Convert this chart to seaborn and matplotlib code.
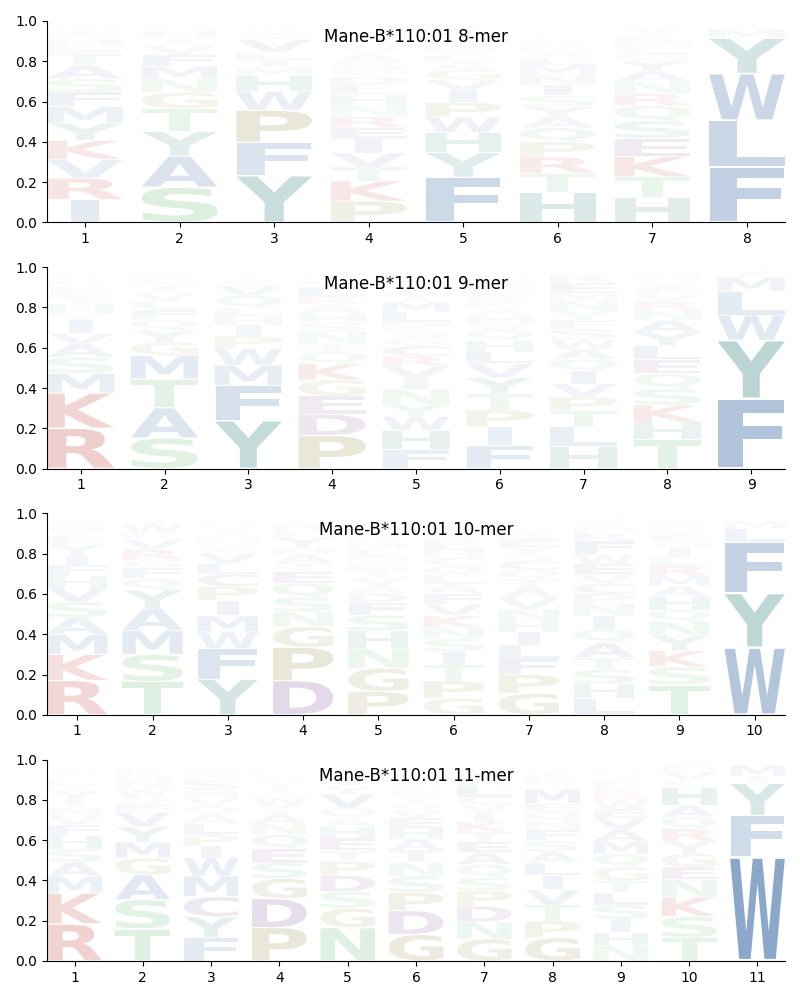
import matplotlib
matplotlib.use("Agg")
import matplotlib.pyplot as plt
import seaborn as sns
from matplotlib.font_manager import FontProperties
from matplotlib.patches import PathPatch
from matplotlib.textpath import TextPath
from matplotlib.transforms import Affine2D

ALLELE = "Mane-B*110:01"

# letters are listed from the bottom of each stack to the top
LETTERS_8 = ["IRVKYMFSATLHQEGNWPDC", "SAYTGNMFVIHQELKRWPDC", "YFPWHMILVQGSATNERKDC",
             "PKTVIERNHLDQSAYMFGWC", "FYHWPIVGALTMSQNRKEDC", "HTRPQAYSINMLVKFEGWDC",
             "HTKESQRNAYGLMFIVPWDC", "FLWYMIVHCT"]
HEIGHTS_8 = [[.113, .106, .094, .094, .086, .081, .073, .066, .065, .06, .036, .034, .02, .018, .015, .012, .01, .008, .005, .004],
             [.174, .155, .122, .115, .08, .066, .061, .061, .046, .033, .036, .018, .012, .008, .005, .004, .002, .001, .001, .0],
             [.232, .165, .16, .093, .078, .041, .038, .04, .06, .03, .02, .015, .01, .008, .004, .002, .002, .001, .001, .0],
             [.105, .10, .07, .07, .07, .055, .055, .057, .052, .05, .04, .033, .04, .04, .03, .025, .02, .015, .015, .008],
             [.223, .124, .10, .075, .073, .063, .05, .05, .036, .035, .03, .03, .025, .02, .02, .015, .012, .008, .006, .005],
             [.149, .095, .08, .075, .07, .055, .05, .055, .053, .05, .05, .041, .03, .025, .02, .015, .012, .008, .005, .004],
             [.121, .105, .10, .09, .088, .075, .06, .06, .053, .05, .04, .03, .03, .025, .025, .02, .012, .008, .005, .003],
             [.275, .232, .232, .175, .046, .018, .01, .006, .004, .002]]

LETTERS_9 = ["RKMSAVIYHTFLEQNGWPDC", "SATMGYQFLVINHEPRKWDC", "YFMWPIHLQVSATNGERKDC",
             "PDEGKQTNSHARLVIMYFWC", "FHWYNIVRCGSPLMTAQEDK", "FIPTYVLHQSMAKREGDWNC",
             "HLTPVIQAWSFYNMERGKDC", "THKSQELYANRVFIMGWPDC", "FYWLMIVC"]
HEIGHTS_9 = [[.2, .175, .098, .08, .066, .053, .068, .032, .045, .035, .03, .027, .022, .018, .012, .01, .009, .008, .006, .006],
             [.152, .15, .143, .117, .065, .06, .053, .05, .04, .045, .03, .03, .02, .015, .012, .008, .005, .003, .001, .001],
             [.238, .175, .10, .083, .063, .053, .046, .04, .06, .05, .025, .02, .012, .01, .008, .006, .004, .003, .002, .002],
             [.164, .106, .09, .08, .08, .06, .043, .056, .046, .046, .045, .036, .05, .03, .02, .015, .012, .006, .004, .001],
             [.094, .095, .07, .058, .075, .058, .058, .05, .05, .04, .04, .04, .05, .05, .035, .03, .025, .02, .012, .01],
             [.113, .095, .083, .08, .08, .07, .058, .058, .05, .036, .038, .035, .03, .03, .03, .03, .025, .02, .015, .004],
             [.11, .096, .08, .07, .065, .063, .058, .05, .05, .05, .046, .045, .05, .04, .05, .04, .015, .01, .006, .002],
             [.143, .088, .085, .08, .075, .07, .07, .065, .06, .05, .045, .035, .035, .025, .025, .02, .012, .008, .005, .004],
             [.347, .29, .125, .118, .07, .028, .015, .003]]

LETTERS_10 = ["RKMASVHFIYLTNGQEPWDC", "TSMAYQFGRVLWINHEPKDC", "YFWMIPCLVANHQTSGERKD",
              "DPGNSQETAHYLRMFIVKWC", "PGNHSFDAVTEQLMRKWICY", "GPTISNKVFALQCHERYMWD",
              "GPFLIHNVATQCSYERMDKW", "LHSTAQINPCVEWFRMYKGD", "TSKYNQHAMRLIGEVFPWDC", "WYFLMIVC"]
HEIGHTS_10 = [[.17, .13, .10, .083, .078, .07, .058, .055, .05, .053, .04, .03, .025, .02, .015, .008, .005, .004, .003, .003],
              [.165, .135, .12, .11, .09, .056, .055, .04, .05, .05, .033, .045, .025, .008, .005, .004, .002, .002, .001, .001],
              [.177, .152, .083, .08, .076, .07, .06, .053, .05, .03, .03, .025, .02, .02, .015, .015, .015, .012, .008, .004],
              [.17, .165, .103, .075, .07, .07, .06, .04, .045, .033, .05, .035, .03, .02, .012, .008, .006, .004, .002, .002],
              [.116, .115, .10, .086, .078, .063, .045, .04, .04, .04, .03, .035, .035, .03, .025, .02, .015, .008, .005, .004],
              [.083, .085, .08, .066, .063, .058, .058, .055, .055, .046, .045, .046, .04, .04, .04, .03, .025, .02, .015, .01],
              [.107, .093, .078, .068, .065, .055, .058, .055, .05, .046, .046, .045, .028, .04, .04, .03, .02, .015, .008, .003],
              [.08, .074, .07, .06, .075, .066, .066, .058, .053, .05, .046, .05, .05, .066, .038, .03, .025, .02, .012, .007],
              [.148, .09, .08, .075, .07, .058, .066, .053, .05, .05, .043, .045, .033, .033, .033, .025, .015, .008, .003, .002],
              [.334, .27, .255, .065, .04, .008, .003, .001]]

LETTERS_11 = ["RKMASHFVNIYTLQGEPWDC", "TSAGMYVFQWNHRLIEKPDC", "FYCMWIPLAQVHSREGNKTD",
              "PDGSEQNATWVIYLFMKRHC", "NGSDPTEHAQVYILMFKRWC", "GDPSNTAHEVQYLMIKRFWC",
              "GNDPSQAETKIVCLRYFHMW", "GPTVILASFNQEMHRKYDWC", "NHISLTGQMAVEWRKFYPDC",
              "TSKNEGYRQAHLVFMIPWDC", "WFYIMRLV"]
HEIGHTS_11 = [[.184, .153, .083, .071, .066, .063, .056, .046, .041, .041, .041, .028, .025, .02, .018, .015, .012, .01, .008, .004],
              [.159, .146, .124, .083, .08, .075, .071, .041, .036, .041, .041, .025, .03, .015, .012, .008, .006, .004, .002, .001],
              [.116, .104, .10, .103, .09, .058, .058, .055, .046, .04, .038, .04, .05, .025, .02, .015, .012, .008, .006, .004],
              [.166, .144, .10, .078, .07, .07, .055, .048, .041, .043, .02, .03, .025, .02, .015, .012, .015, .015, .01, .004],
              [.166, .096, .083, .08, .07, .053, .063, .058, .041, .05, .07, .038, .03, .02, .015, .012, .01, .008, .004, .003],
              [.132, .118, .09, .083, .066, .063, .055, .053, .05, .041, .036, .03, .03, .025, .02, .015, .012, .008, .005, .003],
              [.109, .086, .078, .076, .066, .066, .058, .053, .05, .05, .045, .041, .038, .058, .033, .025, .015, .008, .003, .002],
              [.116, .083, .08, .075, .07, .066, .053, .055, .053, .046, .046, .04, .07, .025, .03, .025, .015, .006, .004, .002],
              [.076, .066, .066, .07, .063, .058, .068, .065, .063, .058, .058, .046, .045, .036, .033, .03, .025, .018, .01, .006],
              [.116, .106, .096, .086, .063, .066, .063, .061, .058, .058, .09, .033, .045, .03, .015, .008, .004, .002, .001, .001],
              [.518, .205, .16, .035, .055, .012, .008, .004]]

PANELS = [("8-mer", LETTERS_8, HEIGHTS_8), ("9-mer", LETTERS_9, HEIGHTS_9),
          ("10-mer", LETTERS_10, HEIGHTS_10), ("11-mer", LETTERS_11, HEIGHTS_11)]

BLUE, RED, TEAL = "#1f5598", "#b01208", "#127069"
GREEN, OLIVE, PURPLE = "#3ca94b", "#786e14", "#601e78"
COLORS = {"A": BLUE, "F": BLUE, "I": BLUE, "L": BLUE, "M": BLUE, "V": BLUE, "W": BLUE,
          "H": TEAL, "Y": TEAL, "K": RED, "R": RED,
          "N": GREEN, "Q": GREEN, "S": GREEN, "T": GREEN,
          "G": OLIVE, "P": OLIVE, "C": PURPLE, "D": PURPLE, "E": PURPLE}

FONT = FontProperties(family="DejaVu Sans", weight="bold")
GLYPH_WIDTH = 0.8
VPAD = 0.02
E_WIDTH = TextPath((0, 0), "E", size=1, prop=FONT).get_extents().width


def fade(height):
    # opacity follows the height, the thin letters at the top fade a bit more
    return min(height * min(1, (height / 0.06) ** 0.5), 1)


def draw_letter(ax, letter, x, bottom, height):
    """Stretch a glyph into its slot; narrow letters stop at the stretch of an E."""
    if height <= 0:
        return
    path = TextPath((0, 0), letter, size=1, prop=FONT)
    box = path.get_extents()
    xscale = min(GLYPH_WIDTH / box.width, GLYPH_WIDTH / E_WIDTH)
    yscale = height * (1 - 2 * VPAD) / box.height
    trans = (Affine2D().translate(-box.xmin - box.width / 2, -box.ymin)
             .scale(xscale, yscale)
             .translate(x, bottom + VPAD * height))
    ax.add_patch(PathPatch(path, transform=trans + ax.transData, facecolor=COLORS[letter],
                           edgecolor="none", linewidth=0, alpha=fade(height)))


def plot_logo(ax, name, letters, heights):
    for pos, (column, values) in enumerate(zip(letters, heights), start=1):
        bottom = 0
        for letter, height in zip(column, values):
            draw_letter(ax, letter, pos, bottom, height)
            bottom += height
    ax.set_xlim(0.6, len(letters) + 0.4)
    ax.set_ylim(0, 1)
    ax.set_xticks(range(1, len(letters) + 1))
    ax.set_title(f"{ALLELE} {name}", fontsize=12, y=0.853)
    sns.despine(ax=ax)


sns.set_style("ticks", {"axes.edgecolor": "black", "text.color": "black", "xtick.color": "black",
                        "ytick.color": "black", "font.family": "DejaVu Sans"})
fig, axs = plt.subplots(4, 1, figsize=(8, 10), dpi=100)
fig.subplots_adjust(left=0.059, right=0.981, top=0.979, bottom=0.039, hspace=0.2236)
for ax, (name, letters, heights) in zip(axs, PANELS):
    plot_logo(ax, name, letters, heights)
fig.savefig("out.png", dpi=100)
